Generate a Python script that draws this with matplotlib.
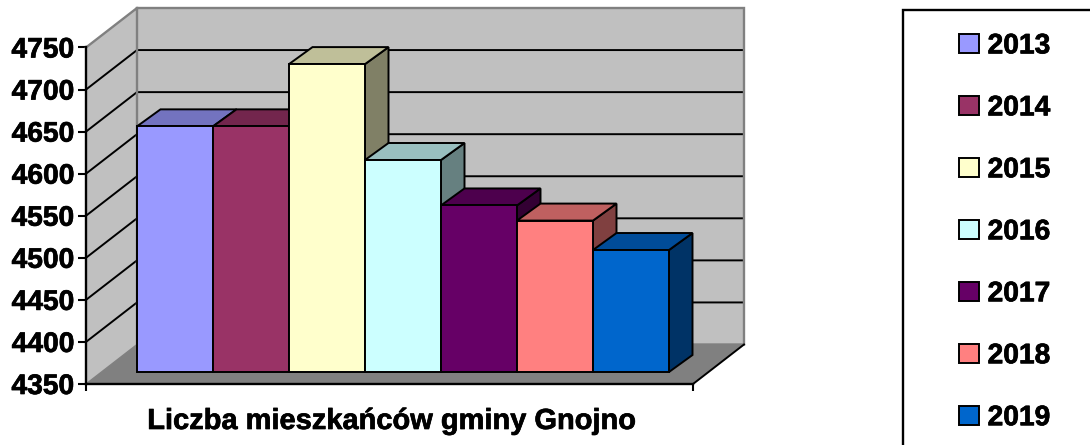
import matplotlib
matplotlib.use("Agg")
import matplotlib.pyplot as plt
import matplotlib.patheffects as pe
from matplotlib.patches import Polygon, Rectangle
from matplotlib.transforms import Affine2D

years = ["2013", "2014", "2015", "2016", "2017", "2018", "2019"]
values = [4642, 4642, 4716, 4602, 4548, 4530, 4495]
colors = ["#9999FF", "#993366", "#FFFFCC", "#CCFFFF", "#660066", "#FF8080", "#0066CC"]
top_colors = ["#7373BF", "#73264D", "#BFBF99", "#99BFBF", "#4D004D", "#BF6060", "#004C99"]
side_colors = ["#4D4D80", "#4D1933", "#808066", "#668080", "#330033", "#804040", "#003366"]
y_ticks = [4350, 4400, 4450, 4500, 4550, 4600, 4650, 4700, 4750]
xlabel = "Liczba mieszkańców gminy Gnojno"

W, H = 1090, 445
plt.rcParams["font.family"] = ["Liberation Sans", "DejaVu Sans"]
plt.rcParams["font.weight"] = "bold"
fig = plt.figure(figsize=(W / 100, H / 100), dpi=100)
L, R, T, B = 86, 693, 47.5, 384
ax = fig.add_axes([L / W, 1 - B / H, (R - L) / W, (B - T) / H])
ax.patch.set_visible(False)

PX_X = 76.0
PX_Y = (B - T) / 400.0
ax.set_xlim((L - 137) / PX_X, (R - 137) / PX_X)
ax.set_ylim(4350, 4750)
x0, x1 = ax.get_xlim()

wdx, wdy = 51 / PX_X, 39.5 / PX_Y    # wall depth
bdx, bdy = 23.5 / PX_X, 17 / PX_Y    # bar depth
shift = 12 / PX_Y                    # bar plane height above front floor edge
LW = 1.4
heavy = [pe.withStroke(linewidth=0.5, foreground="black")]


def poly(pts, fc, ec="none", lw=0.0, z=1):
    ax.add_patch(Polygon(pts, closed=True, facecolor=fc, edgecolor=ec, linewidth=lw,
                         clip_on=False, zorder=z, joinstyle="miter"))


# walls and floor
poly([(x0, 4350), (x0 + wdx, 4350 + wdy), (x0 + wdx, 4750 + wdy), (x0, 4750)], "#C0C0C0")
poly([(x0 + wdx, 4350 + wdy), (x1 + wdx, 4350 + wdy), (x1 + wdx, 4750 + wdy), (x0 + wdx, 4750 + wdy)], "#C0C0C0")
poly([(x0, 4350), (x1, 4350), (x1 + wdx, 4350 + wdy), (x0 + wdx, 4350 + wdy)], "#808080")

# gridlines
for v in y_ticks[1:-1]:
    ax.plot([x0, x0 + wdx, x1 + wdx], [v, v + wdy, v + wdy], color="black", lw=LW,
            clip_on=False, zorder=2, solid_joinstyle="miter")

# wall borders
gray = "#808080"
ax.plot([x0, x0 + wdx, x1 + wdx, x1 + wdx, x0 + wdx, x0 + wdx],
        [4750, 4750 + wdy, 4750 + wdy, 4350 + wdy, 4350 + wdy, 4750 + wdy],
        color=gray, lw=1.7, clip_on=False, zorder=2, solid_joinstyle="miter")
ax.plot([x0, x0 + wdx], [4350, 4350 + wdy], color=gray, lw=1.0, clip_on=False, zorder=2)
ax.plot([x1, x1 + wdx], [4350, 4350 + wdy], color="black", lw=LW, clip_on=False, zorder=2)

# bars
handles = []
for i, (y, v) in enumerate(zip(years, values)):
    vb = 4350 + shift
    vt = v + shift
    poly([(i + 1, vb), (i + 1 + bdx, vb + bdy), (i + 1 + bdx, vt + bdy), (i + 1, vt)],
         side_colors[i], "black", LW, 3 + i)
    poly([(i, vt), (i + 1, vt), (i + 1 + bdx, vt + bdy), (i + bdx, vt + bdy)],
         top_colors[i], "black", LW, 3 + i)
    poly([(i, vb), (i + 1, vb), (i + 1, vt), (i, vt)], colors[i], "black", LW, 3 + i)
    handles.append(Rectangle((0, 0), 1, 1, facecolor=colors[i], edgecolor="black", linewidth=LW, label=y))

# axes
for s in ["top", "right"]:
    ax.spines[s].set_visible(False)
for s in ["left", "bottom"]:
    ax.spines[s].set_linewidth(1.7)
    ax.spines[s].set_zorder(20)
ax.set_yticks(y_ticks)
ax.set_xticks([x0, x1])
ax.set_xticklabels([])
ax.tick_params(axis="y", length=5.5, width=1.5, labelsize=20.3, pad=3)
ax.tick_params(axis="x", length=5, width=1.5)
for t in ax.get_yticklabels():
    t.set_fontweight("bold")
    t.set_path_effects(heavy)
pixel_tf = Affine2D().scale(1, -1).translate(0, H)
ax.text(391, 421, xlabel, fontsize=20.9, fontweight="bold", ha="center", va="center",
        transform=pixel_tf, path_effects=heavy)

# legend frame
fig.add_artist(Rectangle((903 / W, -0.1), 0.3, 1.1 - 10 / H, transform=fig.transFigure,
                         facecolor="white", edgecolor="black", linewidth=1.7))
leg = fig.legend(handles=handles, loc="upper left", bbox_to_anchor=(934 / W, 1 - 8 / H),
                 frameon=False, handlelength=0.68, handleheight=0.68,
                 handletextpad=0.32, labelspacing=1.276, borderpad=0.4,
                 prop={"weight": "bold", "size": 20.3})
for t in leg.get_texts():
    t.set_path_effects(heavy)
fig.savefig("out.png", dpi=100)
